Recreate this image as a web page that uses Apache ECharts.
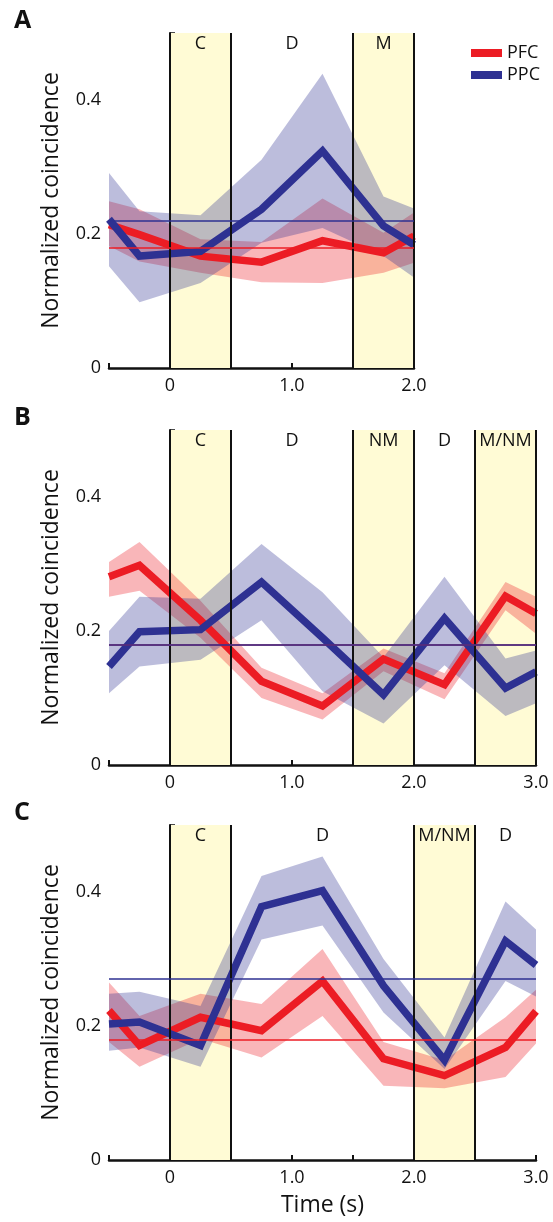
<!DOCTYPE html>
<html>
<head>
<meta charset="utf-8">
<script src="https://cdn.jsdelivr.net/npm/echarts@6/dist/echarts.min.js"></script>
<style>
  html, body { margin: 0; padding: 0; background: #fff; }
  #main { width: 553px; height: 1222px; }
</style>
</head>
<body>
<div id="main"></div>
<script>
// time points (s)
const timeA = [-0.5, -0.25, 0.25, 0.75, 1.25, 1.75, 2.0]
const timeBC = [-0.5, -0.25, 0.25, 0.75, 1.25, 1.75, 2.25, 2.75, 3.0]

// panel A
const pfcA = [0.214, 0.199, 0.167, 0.158, 0.190, 0.172, 0.197]
const pfcHiA = [0.249, 0.237, 0.192, 0.188, 0.253, 0.202, 0.232]
const pfcLoA = [0.182, 0.159, 0.142, 0.128, 0.127, 0.142, 0.157]
const ppcA = [0.222, 0.167, 0.174, 0.237, 0.324, 0.212, 0.184]
const ppcHiA = [0.291, 0.234, 0.228, 0.311, 0.439, 0.256, 0.238]
const ppcLoA = [0.152, 0.098, 0.127, 0.187, 0.209, 0.167, 0.135]
const baseA = { pfc: 0.176, ppc: 0.223 }

// panel B
const pfcB = [0.281, 0.298, 0.216, 0.125, 0.088, 0.158, 0.120, 0.252, 0.226]
const pfcHiB = [0.303, 0.333, 0.245, 0.145, 0.107, 0.174, 0.137, 0.273, 0.251]
const pfcLoB = [0.251, 0.260, 0.190, 0.100, 0.068, 0.140, 0.098, 0.231, 0.196]
const ppcB = [0.147, 0.199, 0.202, 0.273, 0.190, 0.105, 0.219, 0.115, 0.139]
const ppcHiB = [0.200, 0.251, 0.248, 0.330, 0.258, 0.161, 0.281, 0.159, 0.171]
const ppcLoB = [0.107, 0.147, 0.157, 0.216, 0.110, 0.062, 0.149, 0.073, 0.092]
const baseB = { pfc: 0.177, ppc: 0.184 }

// panel C
const pfcC = [0.223, 0.171, 0.213, 0.193, 0.267, 0.151, 0.126, 0.168, 0.222]
const pfcHiC = [0.265, 0.215, 0.248, 0.233, 0.315, 0.176, 0.149, 0.213, 0.254]
const pfcLoC = [0.176, 0.139, 0.181, 0.153, 0.215, 0.111, 0.107, 0.124, 0.174]
const ppcC = [0.203, 0.206, 0.171, 0.378, 0.402, 0.260, 0.149, 0.327, 0.291]
const ppcHiC = [0.248, 0.251, 0.230, 0.424, 0.453, 0.300, 0.183, 0.386, 0.344]
const ppcLoC = [0.163, 0.168, 0.139, 0.329, 0.350, 0.220, 0.136, 0.267, 0.244]
const baseC = { pfc: 0.183, ppc: 0.270 }

// task phases: C = cue, D = delay, M / NM = match / non-match
const phasesA = [['C', 0, 0.5], ['D', 0.5, 1.5], ['M', 1.5, 2.0]]
const phasesB = [['C', 0, 0.5], ['D', 0.5, 1.5], ['NM', 1.5, 2.0], ['D', 2.0, 2.5], ['M/NM', 2.5, 3.0]]
const phasesC = [['C', 0, 0.5], ['D', 0.5, 2.0], ['M/NM', 2.0, 2.5], ['D', 2.5, 3.0]]

const yTickLabels = ['0', '0.2', '0.4']
const panelLetters = ['A', 'B', 'C']

const RED = '#ec1c24'
const BLUE = '#2e3192'
const RED_BAND = 'rgba(236,28,36,0.32)'
const BLUE_BAND = 'rgba(46,49,146,0.32)'
const YELLOW = '#fffbd5'
const FONT = 'Open Sans'

const pair = (xs, ys) => xs.map((x, i) => [x, ys[i]])

const panels = [
  { time: timeA, pfc: pfcA, pfcHi: pfcHiA, pfcLo: pfcLoA, ppc: ppcA, ppcHi: ppcHiA, ppcLo: ppcLoA, base: baseA, phases: phasesA, xMax: 2.0, top: 33, width: 305 },
  { time: timeBC, pfc: pfcB, pfcHi: pfcHiB, pfcLo: pfcLoB, ppc: ppcB, ppcHi: ppcHiB, ppcLo: ppcLoB, base: baseB, phases: phasesB, xMax: 3.0, top: 430, width: 427 },
  { time: timeBC, pfc: pfcC, pfcHi: pfcHiC, pfcLo: pfcLoC, ppc: ppcC, ppcHi: ppcHiC, ppcLo: ppcLoC, base: baseC, phases: phasesC, xMax: 3.0, top: 825, width: 427 }
]

const grids = []
const xAxes = []
const yAxes = []
const series = []
const titles = []

// shaded band between lo and hi, drawn as one polygon through the axis scales
function band(idx, xs, lo, hi, color) {
  return {
    type: 'custom', xAxisIndex: idx, yAxisIndex: idx, z: 2, silent: true,
    data: xs.map((x, j) => [x, lo[j], hi[j]]),
    encode: { x: 0, y: [1, 2] },
    renderItem: (params, api) => {
      if (params.dataIndex !== 0) return null
      const upper = xs.map((x, j) => api.coord([x, hi[j]]))
      const lower = xs.map((x, j) => api.coord([x, lo[j]])).reverse()
      return {
        type: 'polygon',
        shape: { points: upper.concat(lower) },
        style: { fill: color }
      }
    }
  }
}

panels.forEach((p, i) => {
  grids.push({ left: 109, top: p.top, width: p.width, height: 335 })
  titles.push({
    text: panelLetters[i], left: 14, top: p.top - 25, padding: 0,
    textStyle: { fontFamily: FONT, fontSize: 25, fontWeight: 'bold', color: '#111' }
  })

  xAxes.push({
    type: 'value', gridIndex: i, min: -0.5, max: p.xMax, interval: 0.5,
    name: i === 2 ? 'Time (s)' : '', nameLocation: 'middle', nameGap: 34,
    nameTextStyle: { fontFamily: FONT, fontSize: 23, color: '#111' },
    axisLine: { onZero: false, lineStyle: { color: '#111', width: 2.5 } },
    axisTick: { inside: true, length: 5, lineStyle: { color: '#111', width: 2 } },
    splitLine: { show: false },
    axisLabel: {
      fontFamily: FONT, fontSize: 18, color: '#111', margin: 9,
      formatter: v => Math.abs(v - Math.round(v)) < 1e-6 ? (Math.round(v) === 0 ? '0' : v.toFixed(1)) : ''
    }
  })

  yAxes.push({
    type: 'value', gridIndex: i, min: 0, max: 0.5, interval: 0.05,
    name: 'Normalized coincidence', nameLocation: 'middle', nameGap: 46,
    nameTextStyle: { fontFamily: FONT, fontSize: 23, color: '#111' },
    axisLine: { show: true, lineStyle: { color: '#111', width: 2 } },
    axisTick: { show: true, inside: true, length: 5, lineStyle: { color: '#111', width: 1.5 } },
    splitLine: { show: false },
    axisLabel: {
      fontFamily: FONT, fontSize: 18, color: '#111', margin: 8,
      formatter: v => {
        const k = Math.round(v * 10) / 2
        return Math.abs(v * 10 - Math.round(v * 10)) < 1e-6 && Number.isInteger(k) && yTickLabels[k] ? yTickLabels[k] : ''
      }
    }
  })

  // phase shading + phase names
  const shaded = p.phases.filter(ph => ph[0] !== 'D')
  series.push({
    type: 'line', xAxisIndex: i, yAxisIndex: i, z: 1, data: [], silent: true,
    markArea: {
      silent: true,
      label: { show: true, position: 'insideTop', distance: 2, fontFamily: FONT, fontSize: 18, color: '#111' },
      data: p.phases.map(ph => [
        { name: ph[0], xAxis: ph[1], yAxis: 0, itemStyle: { color: ph[0] === 'D' ? 'rgba(0,0,0,0)' : YELLOW } },
        { xAxis: ph[2], yAxis: 0.5 }
      ])
    }
  })

  series.push(band(i, p.time, p.pfcLo, p.pfcHi, RED_BAND))
  series.push(band(i, p.time, p.ppcLo, p.ppcHi, BLUE_BAND))

  // phase borders + baseline levels
  const edges = []
  shaded.forEach(ph => { if (!edges.includes(ph[1])) edges.push(ph[1]); if (!edges.includes(ph[2])) edges.push(ph[2]) })
  series.push({
    type: 'line', xAxisIndex: i, yAxisIndex: i, z: 3, data: [], silent: true,
    markLine: {
      silent: true, symbol: 'none', animation: false,
      label: { show: false },
      data: edges.map(x => ({ xAxis: x, lineStyle: { color: '#111', width: 2, type: 'solid' } }))
        .concat([
          { yAxis: p.base.pfc, lineStyle: { color: RED, width: 1.6, type: 'solid' } },
          { yAxis: p.base.ppc, lineStyle: { color: BLUE, width: 1.6, type: 'solid' } }
        ])
    }
  })

  series.push({
    name: 'PFC', type: 'line', xAxisIndex: i, yAxisIndex: i, z: 4,
    symbol: 'none', lineStyle: { color: RED, width: 7.5, join: 'miter' }, itemStyle: { color: RED },
    data: pair(p.time, p.pfc)
  })
  series.push({
    name: 'PPC', type: 'line', xAxisIndex: i, yAxisIndex: i, z: 4,
    symbol: 'none', lineStyle: { color: BLUE, width: 7.5, join: 'miter' }, itemStyle: { color: BLUE },
    data: pair(p.time, p.ppc)
  })
})

const chart = echarts.init(document.getElementById('main'))
chart.setOption({
  animation: false,
  backgroundColor: '#fff',
  title: titles,
  legend: {
    data: ['PFC', 'PPC'], orient: 'vertical', left: 466, top: 37,
    icon: 'rect', itemWidth: 31, itemHeight: 8, itemGap: 0,
    textStyle: { fontFamily: FONT, fontSize: 18, color: '#111', lineHeight: 22 }
  },
  grid: grids,
  xAxis: xAxes,
  yAxis: yAxes,
  series: series
})
</script>
</body>
</html>
